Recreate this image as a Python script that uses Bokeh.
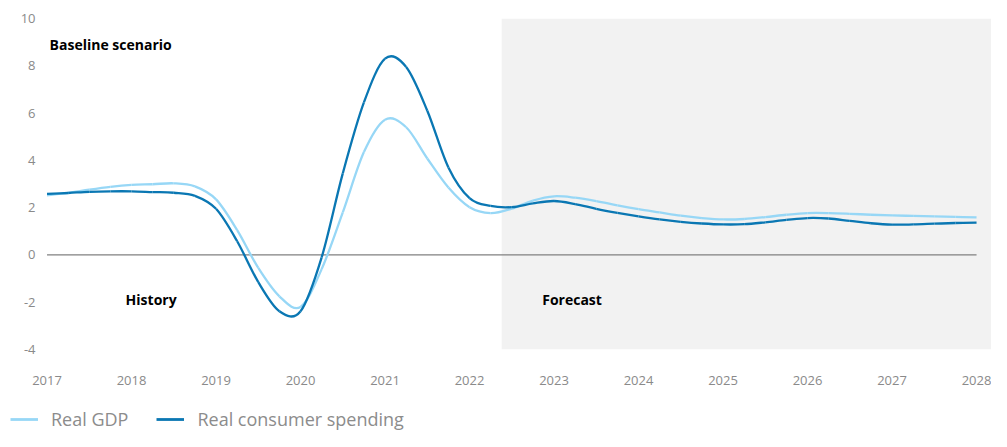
from bokeh.plotting import figure
from bokeh.layouts import column
from bokeh.models import Range1d, FixedTicker, BoxAnnotation, Label, Legend, LegendItem
from bokeh.embed import file_html
from bokeh.resources import INLINE

# ---- data ----
quarters = [2017 + 0.25 * i for i in range(45)]

real_gdp = [2.52, 2.62, 2.76, 2.88, 2.96, 2.99, 3.03, 2.90,
            2.35, 1.05, -0.55, -1.75, -2.20, -0.60, 1.80, 4.35,
            5.72, 5.40, 4.08, 2.85, 2.02, 1.77, 1.96, 2.30,
            2.48, 2.42, 2.28, 2.10, 1.94, 1.80, 1.66, 1.56,
            1.50, 1.52, 1.60, 1.70, 1.77, 1.77, 1.74, 1.70,
            1.67, 1.65, 1.63, 1.61, 1.59]

real_consumer = [2.58, 2.62, 2.67, 2.69, 2.69, 2.66, 2.63, 2.50,
                 1.95, 0.58, -1.15, -2.38, -2.38, -0.10, 3.45, 6.45,
                 8.30, 7.95, 6.10, 3.70, 2.40, 2.07, 2.02, 2.18,
                 2.28, 2.15, 1.95, 1.78, 1.63, 1.50, 1.40, 1.33,
                 1.29, 1.30, 1.38, 1.48, 1.56, 1.54, 1.44, 1.34,
                 1.28, 1.29, 1.32, 1.35, 1.37]

year_ticks = list(range(2017, 2029))
value_ticks = [-4, -2, 0, 2, 4, 6, 8, 10]
forecast_start = 2022.38

series_names = ["Real GDP", "Real consumer spending"]
series_colors = ["#97d7f6", "#0a77b3"]

FONT = "Open Sans"


def smooth_segments(xs, ys):
    """Catmull-Rom -> cubic bezier control points for a smoothed line."""
    n = len(xs)
    x0, y0, x1, y1, cx0, cy0, cx1, cy1 = ([] for _ in range(8))
    for i in range(n - 1):
        ip = max(i - 1, 0)
        inn = min(i + 2, n - 1)
        x0.append(xs[i]); y0.append(ys[i])
        x1.append(xs[i + 1]); y1.append(ys[i + 1])
        cx0.append(xs[i] + (xs[i + 1] - xs[ip]) / 6.0)
        cy0.append(ys[i] + (ys[i + 1] - ys[ip]) / 6.0)
        cx1.append(xs[i + 1] - (xs[inn] - xs[i]) / 6.0)
        cy1.append(ys[i + 1] - (ys[inn] - ys[i]) / 6.0)
    return dict(x0=x0, y0=y0, x1=x1, y1=y1, cx0=cx0, cy0=cy0, cx1=cx1, cy1=cy1)


p = figure(width=991, height=400, output_backend="svg", toolbar_location=None,
           x_range=Range1d(2016.97, 2028.177), y_range=Range1d(-4, 10),
           min_border_left=44, min_border_right=0, min_border_top=18, min_border_bottom=51)
p.frame_align = False
p.outline_line_color = None
p.xgrid.grid_line_color = None
p.ygrid.grid_line_color = None
p.background_fill_color = "white"
p.border_fill_color = "white"

# forecast shading
p.add_layout(BoxAnnotation(left=forecast_start, fill_color="#f2f2f2", fill_alpha=1.0,
                           line_color=None, level="underlay"))

# zero line
p.line(x=[year_ticks[0], year_ticks[-1]], y=[0, 0], line_color="#808080", line_width=1.2)

for vals, col in zip([real_gdp, real_consumer], series_colors):
    p.bezier(source=smooth_segments(quarters, vals), x0="x0", y0="y0", x1="x1", y1="y1",
             cx0="cx0", cy0="cy0", cx1="cx1", cy1="cy1", line_color=col, line_width=2.3)

# axes
for ax in (p.xaxis[0], p.yaxis[0]):
    ax.axis_line_color = None
    ax.major_tick_line_color = None
    ax.minor_tick_line_color = None
    ax.major_tick_out = 0
    ax.major_tick_in = 0
    ax.major_label_text_font = FONT
    ax.major_label_text_font_size = "13px"
    ax.major_label_text_color = "#8a8a8a"

p.xaxis.ticker = FixedTicker(ticks=year_ticks)
p.xaxis.major_label_standoff = 26
p.yaxis.ticker = FixedTicker(ticks=value_ticks)
p.yaxis.major_label_standoff = 9
p.yaxis.major_label_overrides = {v: str(v) for v in value_ticks}

# texts
for txt, x, y in [("Baseline scenario", 2017.03, 8.9), ("History", 2017.93, -1.89),
                  ("Forecast", 2022.86, -1.89)]:
    p.add_layout(Label(x=x, y=y, text=txt, text_font=FONT, text_font_size="14px",
                       text_font_style="bold", text_color="#000000", text_baseline="middle"))

# legend strip below the chart (renderers hidden; only their legend glyphs show)
pl = figure(width=991, height=31, output_backend="svg", toolbar_location=None,
            x_range=Range1d(0, 1), y_range=Range1d(0, 1),
            min_border_left=0, min_border_right=0, min_border_top=0, min_border_bottom=0)
pl.frame_align = False
pl.axis.visible = False
pl.grid.visible = False
pl.outline_line_color = None
pl.border_fill_color = "white"
pl.background_fill_color = "white"
legend_renderers = []
for vals, col in zip([real_gdp, real_consumer], series_colors):
    r = pl.line(x=quarters, y=vals, line_color=col, line_width=2.8)
    r.visible = False
    legend_renderers.append(r)
legend = Legend(items=[LegendItem(label=n, renderers=[r])
                       for n, r in zip(series_names, legend_renderers)],
                orientation="horizontal", location=(10, 0),
                label_text_font=FONT, label_text_font_size="18px", label_text_color="#8c8c8c",
                glyph_width=28, label_standoff=13, spacing=28, padding=0, margin=0,
                inactive_fill_alpha=0.0, click_policy="none",
                background_fill_alpha=0, border_line_color=None)
pl.add_layout(legend, "center")

layout = column(p, pl, spacing=0)
open("out.html", "w").write(file_html(layout, INLINE))
